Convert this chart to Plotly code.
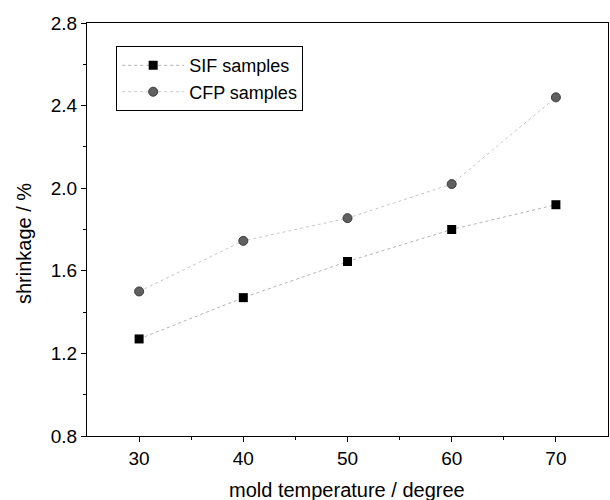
import plotly.graph_objects as go

temps = [30, 40, 50, 60, 70]
sif = [1.27, 1.47, 1.645, 1.80, 1.92]
cfp = [1.50, 1.745, 1.855, 2.02, 2.44]

fig = go.Figure()
fig.add_trace(go.Scatter(x=temps, y=sif, mode="lines+markers", name="SIF samples",
                         line=dict(color="#b4b4b4", width=1, dash="dot"),
                         marker=dict(symbol="square", size=9, color="black")))
fig.add_trace(go.Scatter(x=temps, y=cfp, mode="lines+markers", name="CFP samples",
                         line=dict(color="#c8c8c8", width=1, dash="dot"),
                         marker=dict(symbol="circle", size=9, color="#606060",
                                     line=dict(color="#3a3a3a", width=1))))

font = "Liberation Sans, Arial, sans-serif"
fig.update_layout(
    width=610, height=500,
    margin=dict(l=87, r=2, t=23, b=64),
    paper_bgcolor="white", plot_bgcolor="white",
    font=dict(family=font, color="black"),
    showlegend=True,
    legend=dict(x=0.056, y=0.944, xanchor="left", yanchor="top",
                bordercolor="black", borderwidth=1, bgcolor="white",
                font=dict(size=18, family=font), tracegroupgap=0,
                itemwidth=62),
    annotations=[
        dict(text="mold temperature / degree", xref="paper", yref="paper",
             x=0.499, y=-0.131, xanchor="center", yanchor="middle",
             showarrow=False, font=dict(size=20, family=font)),
        dict(text="shrinkage / %", xref="paper", yref="paper",
             x=-0.121, y=0.467, xanchor="center", yanchor="middle", textangle=-90,
             showarrow=False, font=dict(size=20, family=font)),
    ],
)
fig.update_xaxes(range=[25, 75], tickvals=[30, 40, 50, 60, 70],
                 automargin=False,
                 ticks="outside", ticklen=5, tickwidth=1, tickcolor="black",
                 showline=True, linecolor="black", linewidth=1, mirror=True,
                 showgrid=False, zeroline=False,
                 tickfont=dict(size=19),
                 minor=dict(tickvals=[35, 45, 55, 65], ticks="outside", ticklen=3, tickcolor="black"))
fig.update_yaxes(range=[0.8, 2.8], tickvals=[0.8, 1.2, 1.6, 2.0, 2.4, 2.8],
                 ticktext=["0.8", "1.2", "1.6", "2.0", "2.4", "2.8"],
                 automargin=False,
                 ticks="outside", ticklen=5, tickwidth=1, tickcolor="black",
                 showline=True, linecolor="black", linewidth=1, mirror=True,
                 showgrid=False, zeroline=False,
                 tickfont=dict(size=19),
                 minor=dict(tickvals=[1.0, 1.4, 1.8, 2.2, 2.6], ticks="outside", ticklen=3, tickcolor="black"))

fig.write_html("out.html", config={"displayModeBar": False},
               post_script="document.body.style.margin='0';document.body.style.overflow='hidden';")
